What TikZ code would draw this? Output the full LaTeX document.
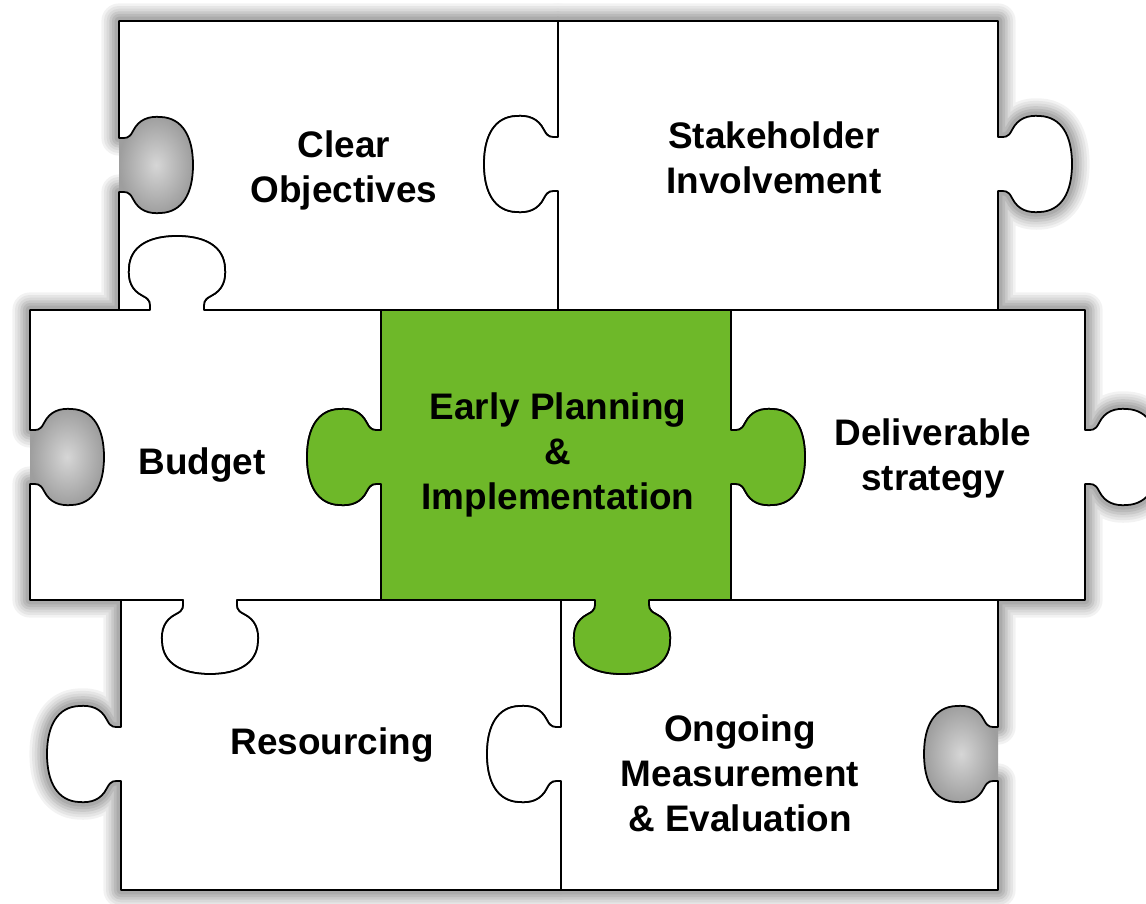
\documentclass[tikz,border=0pt]{standalone}
\usepackage{fontspec}
\setmainfont{Liberation Sans}

\definecolor{MyGreen}{rgb}{0.43,0.72,0.16}

\tikzset{
    piece/.style={
      fill=white,
      draw=black,
      line width=0.5pt,
      line join=round
    },
    centre/.style={piece, fill=MyGreen},
    hole/.style={inner color=black!16, outer color=black!38},
    piecetext/.style={
      align=center,
      text=black,
      font=\bfseries\fontsize{10.5}{12.8}\selectfont
    },
    % knob on an edge: centre (#1,#2), direction of travel (#3,#4),
    % #5 = 1 sticks out, -1 cuts in
    tab/.style n args={5}{insert path={
      -- ({#1-27*(#3)},{#2-27*(#4)})
      .. controls +({(0)*(#3)+(7)*(#5)*(#4)},{(0)*(#4)-(7)*(#5)*(#3)})
             and +({(8)*(#3)+(-4)*(#5)*(#4)},{(8)*(#4)-(-4)*(#5)*(#3)})
      .. ++({(-7)*(#3)+(14)*(#5)*(#4)},{(-7)*(#4)-(14)*(#5)*(#3)})
      .. controls +({(-12)*(#3)+(6)*(#5)*(#4)},{(-12)*(#4)-(6)*(#5)*(#3)})
             and +({(-1)*(#3)+(-12)*(#5)*(#4)},{(-1)*(#4)-(-12)*(#5)*(#3)})
      .. ++({(-14)*(#3)+(28)*(#5)*(#4)},{(-14)*(#4)-(28)*(#5)*(#3)})
      .. controls +({(1)*(#3)+(21)*(#5)*(#4)},{(1)*(#4)-(21)*(#5)*(#3)})
             and +({(-29)*(#3)},{(-29)*(#4)})
      .. ++({(48)*(#3)+(32)*(#5)*(#4)},{(48)*(#4)-(32)*(#5)*(#3)})
      .. controls +({(29)*(#3)},{(29)*(#4)})
             and +({(-1)*(#3)+(21)*(#5)*(#4)},{(-1)*(#4)-(21)*(#5)*(#3)})
      .. ++({(48)*(#3)+(-32)*(#5)*(#4)},{(48)*(#4)-(-32)*(#5)*(#3)})
      .. controls +({(1)*(#3)+(-12)*(#5)*(#4)},{(1)*(#4)-(-12)*(#5)*(#3)})
             and +({(12)*(#3)+(6)*(#5)*(#4)},{(12)*(#4)-(6)*(#5)*(#3)})
      .. ++({(-14)*(#3)+(-28)*(#5)*(#4)},{(-14)*(#4)-(-28)*(#5)*(#3)})
      .. controls +({(-8)*(#3)+(-4)*(#5)*(#4)},{(-8)*(#4)-(-4)*(#5)*(#3)})
             and +({(0)*(#3)+(7)*(#5)*(#4)},{(0)*(#4)-(7)*(#5)*(#3)})
      .. ++({(-7)*(#3)+(-14)*(#5)*(#4)},{(-7)*(#4)-(-14)*(#5)*(#3)})
    }},
}

% outlines of the seven pieces
\newcommand{\pieceCO}{(119,21) -- (558,21) [tab={558}{164}{0}{1}{-1}] -- (558,310)
  [tab={177}{310}{-1}{0}{-1}] -- (119,310) [tab={119}{165}{0}{-1}{-1}] -- cycle}
\newcommand{\pieceSH}{(558,21) -- (998,21) [tab={998}{164}{0}{1}{1}] -- (998,310)
  -- (558,310) [tab={558}{164}{0}{-1}{1}] -- cycle}
\newcommand{\pieceBU}{(30,310) [tab={177}{310}{1}{0}{1}] -- (381,310)
  [tab={381}{457}{0}{1}{-1}] -- (381,600) [tab={210}{600}{-1}{0}{1}] -- (30,600)
  [tab={30}{457}{0}{-1}{-1}] -- cycle}
\newcommand{\pieceGR}{(381,310) -- (731,310) [tab={731}{457}{0}{1}{1}] -- (731,600)
  [tab={622}{600}{-1}{0}{1}] -- (381,600) [tab={381}{457}{0}{-1}{1}] -- cycle}
\newcommand{\pieceDE}{(731,310) -- (1085,310) [tab={1085}{457}{0}{1}{1}] -- (1085,600)
  -- (731,600) [tab={731}{457}{0}{-1}{-1}] -- cycle}
\newcommand{\pieceRE}{(121,600) [tab={210}{600}{1}{0}{-1}] -- (561,600)
  [tab={561}{754}{0}{1}{-1}] -- (561,890) -- (121,890) [tab={121}{754}{0}{-1}{1}] -- cycle}
\newcommand{\pieceON}{(561,600) [tab={622}{600}{1}{0}{-1}] -- (998,600)
  [tab={998}{754}{0}{1}{-1}] -- (998,890) -- (561,890) [tab={561}{754}{0}{-1}{1}] -- cycle}

\begin{document}
\begin{tikzpicture}[x=0.01cm, y=-0.01cm]

    \useasboundingbox (0,0) rectangle (1146,903);

    % soft shadow round the whole puzzle
    \foreach \w/\c in {10/5, 8.5/10, 7/15, 5.5/21, 4/27, 2.5/33} {
      \foreach \p in {\pieceCO,\pieceSH,\pieceBU,\pieceGR,\pieceDE,\pieceRE,\pieceON} {
        \draw[line width=\w pt, black!\c, line join=round] \p;
      }
    }

    % open sockets on the rim
    \shade[hole] (119,165) [tab={119}{165}{0}{-1}{-1}] -- cycle;
    \shade[hole] (30,457) [tab={30}{457}{0}{-1}{-1}] -- cycle;
    \shade[hole] (998,754) [tab={998}{754}{0}{1}{-1}] -- cycle;

    % the pieces
    \draw[piece] \pieceCO;
    \draw[piece] \pieceSH;
    \draw[piece] \pieceBU;
    \draw[piece] \pieceDE;
    \draw[piece] \pieceRE;
    \draw[piece] \pieceON;
    \draw[centre] \pieceGR;

    \node[piecetext] (co) at (344,170) {Clear\\Objectives};
    \node[piecetext] (sh) at (774,158) {Stakeholder\\Involvement};
    \node[piecetext] (bu) at (202,465) {Budget};
    \node[piecetext] (gr) at (558,455) {Early Planning\\\&\\Implementation};
    \node[piecetext] (de) at (933,459) {Deliverable\\strategy};
    \node[piecetext] (re) at (332,745) {Resourcing};
    \node[piecetext] (on) at (740,773) {Ongoing\\Measurement\\\& Evaluation};

\end{tikzpicture}
\end{document}
